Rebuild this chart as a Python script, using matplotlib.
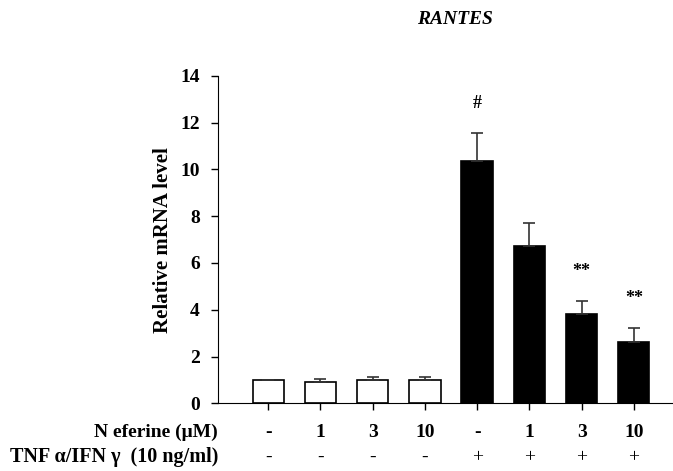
import matplotlib
matplotlib.use("Agg")
import matplotlib.pyplot as plt
import numpy as np

# values
neferine = ["-", "1", "3", "10", "-", "1", "3", "10"]
tnf = ["-", "-", "-", "-", "+", "+", "+", "+"]
means = [1.0, 0.93, 1.0, 1.0, 10.38, 6.73, 3.82, 2.63]
errs = [0.0, 0.12, 0.11, 0.11, 1.16, 0.96, 0.56, 0.57]
colors = ["white"] * 4 + ["black"] * 4
marks = ["", "", "", "", "#", "", "**", "**"]

plt.rcParams['font.family'] = ['Liberation Serif', 'DejaVu Serif']
plt.rcParams['font.weight'] = 'bold'

fig = plt.figure(figsize=(6.73, 4.71), dpi=100)
ax = fig.add_axes([0.324, 0.1437, 0.676, 0.6953])

x = np.arange(len(means))
ax.bar(x, means, width=0.6, color=colors, edgecolor="black", linewidth=1.2,
       yerr=[np.zeros(len(errs)), errs], capsize=4,
       error_kw=dict(ecolor="#333333", elinewidth=1.2, capthick=1.2))

for i, m in enumerate(marks):
    if m:
        ax.text(i, means[i] + errs[i] + 0.9, m, ha="center", va="bottom",
                fontsize=13, fontweight="bold")

ax.set_xlim(-0.96, 7.75)
ax.set_ylim(0, 14)
ax.set_yticks(range(0, 15, 2))
ax.set_xticks(x)
ax.set_xticklabels([])
ax.tick_params(axis="y", direction="out", length=5, width=1, labelsize=14, pad=8)
ax.tick_params(axis="x", direction="out", length=5, width=1)
for lbl in ax.get_yticklabels():
    lbl.set_fontweight("bold")
ax.spines["top"].set_visible(False)
ax.spines["right"].set_visible(False)
ax.set_ylabel("Relative mRNA level", fontsize=15, fontweight="bold", labelpad=5)

fig.text(455 / 673, 1 - 20 / 471, "RANTES", fontsize=14, fontweight="bold",
         style="italic", ha="center", va="center")

# treatment table under the axis
trans = ax.get_xaxis_transform()
ax.text(-0.96, -0.088, "N eferine (\u03bcM)", transform=trans, ha="right",
        va="center", fontsize=14, fontweight="bold")
ax.text(-0.96, -0.165, "TNF \u03b1/IFN \u03b3  (10 ng/ml)", transform=trans,
        ha="right", va="center", fontsize=14.5, fontweight="bold")
for i in x:
    ax.text(i, -0.088, neferine[i], transform=trans, ha="center", va="center",
            fontsize=14, fontweight="bold")
    ax.text(i, -0.165, tnf[i], transform=trans, ha="center", va="center",
            fontsize=14, fontweight="normal")

fig.savefig("out.png", dpi=100)
